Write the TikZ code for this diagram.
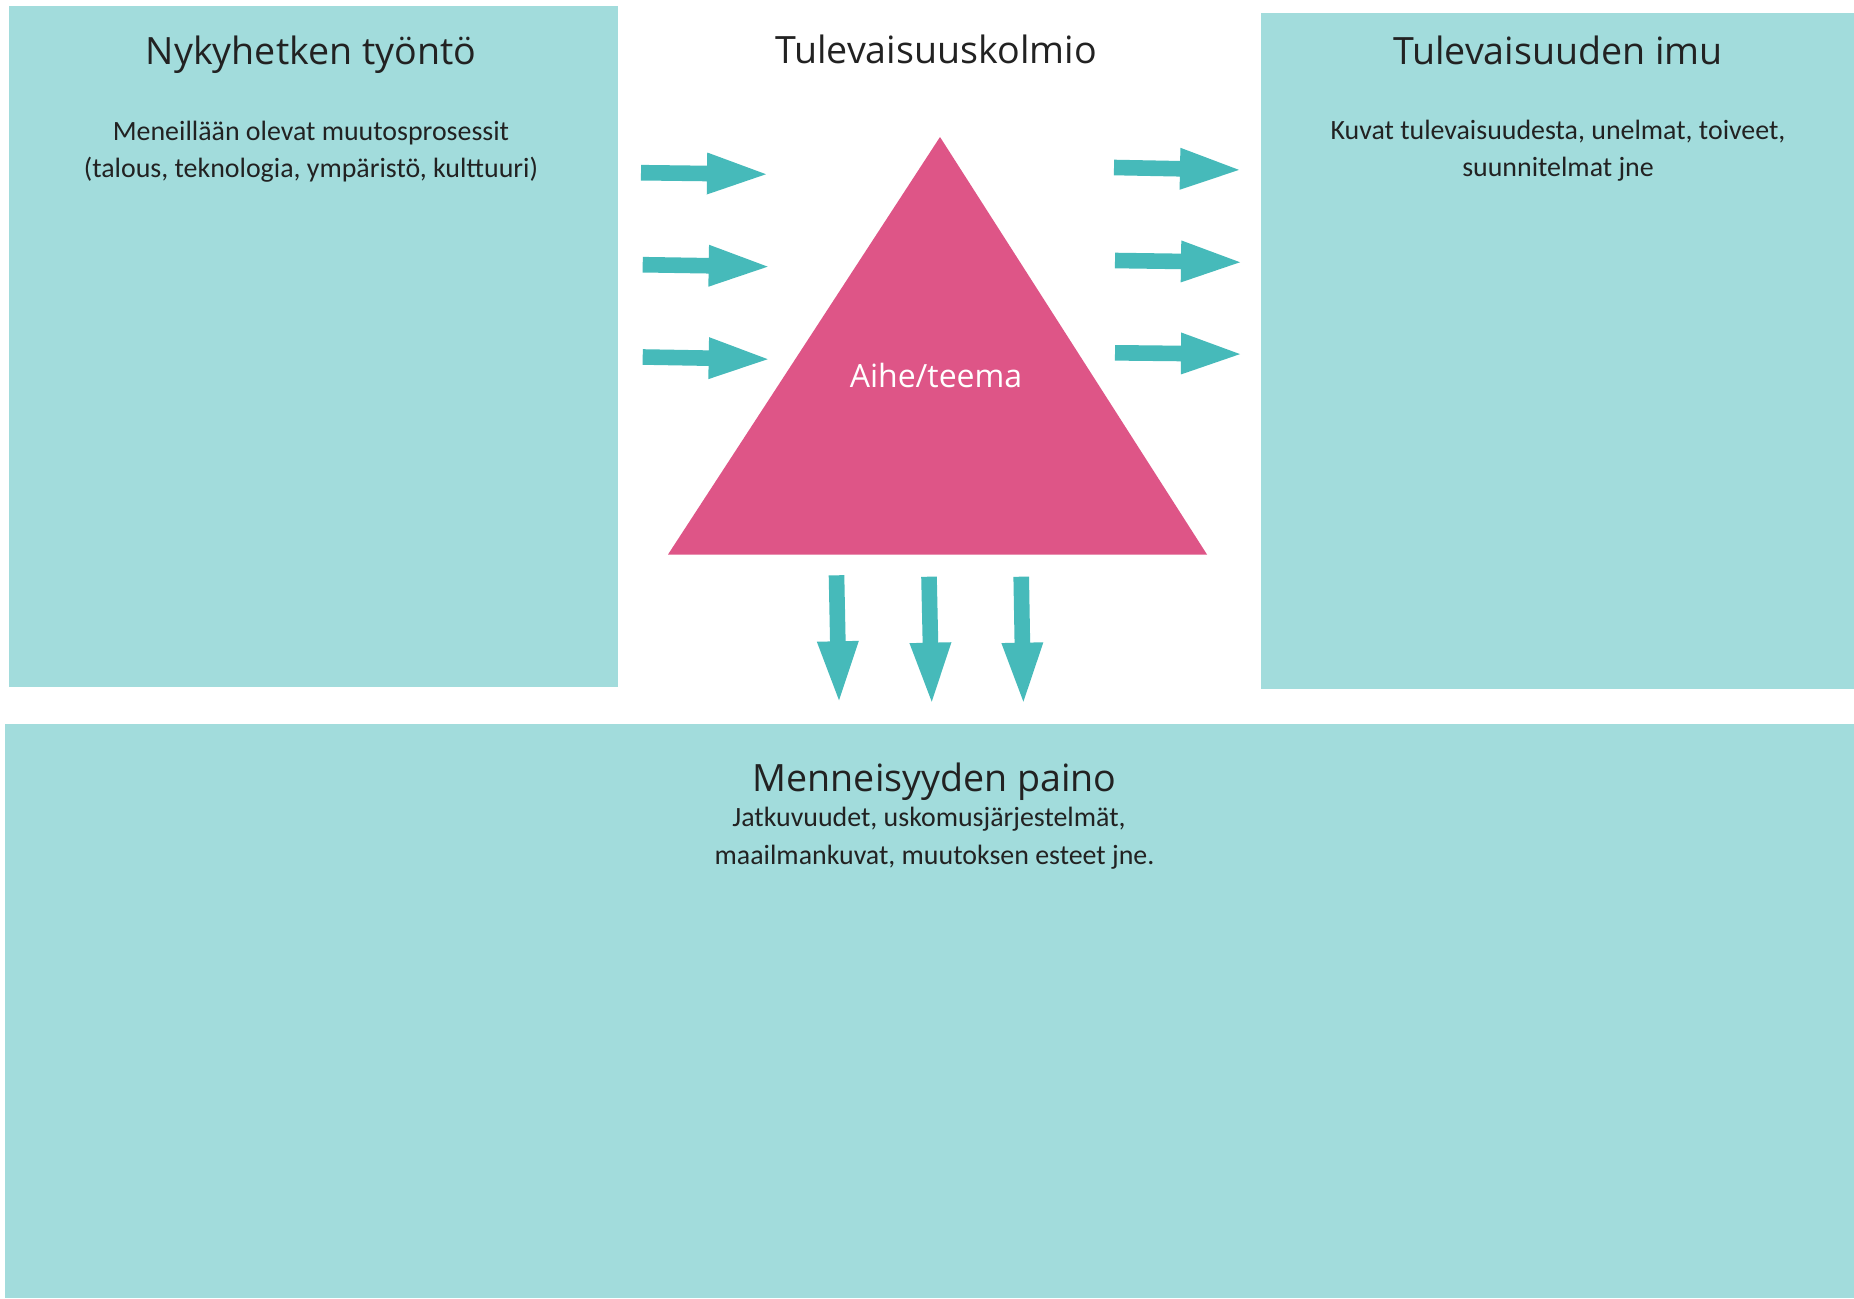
\documentclass[tikz,border=0pt]{standalone}
\usepackage{fontspec}
\setmainfont{Carlito}
\newfontfamily\headfont{Open Sans}

\definecolor{panelfill}{HTML}{A2DCDC}
\definecolor{arrowfill}{HTML}{46BABA}
\definecolor{trianglefill}{HTML}{DE5587}
\definecolor{inktext}{HTML}{222222}

\tikzset{
  panel/.style={fill=panelfill, draw=none, inner sep=0pt, outer sep=0pt, anchor=north west},
  headtext/.style={font=\headfont\fontsize{37.6}{45}\selectfont, text=inktext, inner sep=0pt, anchor=base},
  bodytext/.style={font=\fontsize{27.9}{33}\selectfont, text=inktext, inner sep=0pt, anchor=base},
  themetext/.style={font=\headfont\fontsize{32}{38}\selectfont, text=white, inner sep=0pt, anchor=base},
  blockarrow/.pic={
    \fill[arrowfill] (0,-7.8) -- (66,-7.8) -- (66,-21) -- (125,0)
      -- (66,21) -- (66,7.8) -- (0,7.8) -- cycle;
  }
}

\begin{document}
\begin{tikzpicture}[x=1pt, y=-1pt]
\useasboundingbox[fill=white] (0,0) rectangle (1854,1298);

% the three panels
\node[panel, minimum width=609pt, minimum height=681pt] (push) at (9,6) {};
\node[panel, minimum width=593pt, minimum height=676pt] (pull) at (1261,13) {};
\node[panel, minimum width=1849pt, minimum height=574pt] (weight) at (5,724) {};

% panel texts
\node[headtext] (pushtitle) at (311,65) {Nykyhetken työntö};
\node[bodytext] (pushline1) at (311,140) {Meneillään olevat muutosprosessit};
\node[bodytext] (pushline2) at (311,177.7) {(talous, teknologia, ympäristö, kulttuuri)};

\node[headtext] (maintitle) at (936,63.3) {Tulevaisuuskolmio};

\node[headtext] (pulltitle) at (1558,65) {Tulevaisuuden imu};
\node[bodytext] (pullline1) at (1558,139.3) {Kuvat tulevaisuudesta, unelmat, toiveet,};
\node[bodytext] (pullline2) at (1558,176.7) {suunnitelmat jne};

\node[headtext] (weighttitle) at (934.7,791.7) {Menneisyyden paino};
\node[bodytext] (weightline1) at (929,826.7) {Jatkuvuudet, uskomusjärjestelmät,};
\node[bodytext] (weightline2) at (934.5,864) {maailmankuvat, muutoksen esteet jne.};

% the triangle
\coordinate (apex) at (940,137);
\coordinate (baseL) at (668,554.5);
\coordinate (baseR) at (1207,554.5);
\fill[trianglefill] (apex) -- (baseL) -- (baseR) -- cycle;
\node[themetext] (theme) at (936,387.7) {Aihe/teema};

% arrows pushing in from the left
\coordinate (inA) at (641,172.7);
\coordinate (inB) at (642.7,264.7);
\coordinate (inC) at (642.7,357);
\pic[rotate=-0.7] at (inA) {blockarrow};
\pic[rotate=-0.9] at (inB) {blockarrow};
\pic[rotate=-1.0] at (inC) {blockarrow};

% arrows pulling out to the right
\coordinate (outA) at (1114,167.5);
\coordinate (outB) at (1115,260.5);
\coordinate (outC) at (1115,352.8);
\pic[rotate=-1.1] at (outA) {blockarrow};
\pic[rotate=-0.8] at (outB) {blockarrow};
\pic[rotate=-0.6] at (outC) {blockarrow};

% arrows down towards the past
\coordinate (downA) at (836.5,575.3);
\coordinate (downB) at (929,576.7);
\coordinate (downC) at (1021.2,576.7);
\pic[rotate=-88.85] at (downA) {blockarrow};
\pic[rotate=-88.75] at (downB) {blockarrow};
\pic[rotate=-89.0] at (downC) {blockarrow};
\end{tikzpicture}
\end{document}
